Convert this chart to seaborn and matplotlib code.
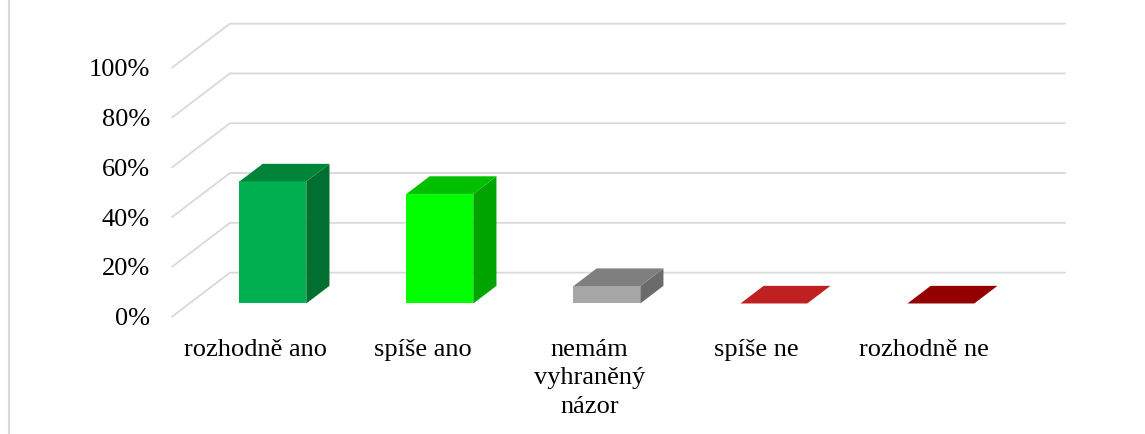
import pandas as pd
import matplotlib
matplotlib.use("Agg")
import matplotlib.pyplot as plt
import seaborn as sns
from matplotlib.patches import Polygon
from matplotlib.lines import Line2D
from matplotlib.transforms import Affine2D

# data
categories = ["rozhodně ano", "spíše ano", "nemám\nvyhraněný\nnázor", "spíše ne", "rozhodně ne"]
values = [49, 44, 7, 0, 0]
yticks = [0, 20, 40, 60, 80, 100]
ytick_labels = ["0%", "20%", "40%", "60%", "80%", "100%"]

# face colours (front / top / side) like the Excel 3D columns
front_colors = ["#00B050", "#00FF00", "#A6A6A6", "#E02A2A", "#A80000"]
top_colors = ["#00843A", "#00BF00", "#7F7F7F", "#BF2121", "#940000"]
side_colors = ["#006F30", "#00A500", "#6B6B6B", "#A01A1A", "#7A0000"]

df = pd.DataFrame({"answer": categories, "share": values})

sns.set_theme(style="white")
plt.rcParams["font.family"] = ["Liberation Serif", "DejaVu Serif"]

fig = plt.figure(figsize=(11.45, 4.34), dpi=100)
ax = fig.add_axes([172 / 1145, 1 - 316.7 / 434, 835 / 1145, 249 / 434])
ax.set_facecolor("none")

# depth of the 3D box in data units, and where the bars sit inside it
DX, DY = 0.347, 17.7
D0, D1 = 0.3, 0.7

# gridlines: diagonal on the side wall + line on the back wall
grid = "#D9D9D9"
for t in yticks:
    ax.plot([-0.5, -0.5 + DX, 4.5 + DX], [t, t + DY, t + DY],
            color=grid, lw=1.3, clip_on=False, zorder=0)

sns.barplot(data=df, x="answer", y="share", hue="answer", palette=front_colors,
            saturation=1, width=0.4, errorbar=None, legend=False, ax=ax, zorder=3)

# push front faces into the box and add top + side faces
bars = sorted(ax.patches, key=lambda p: p.get_x())
for i, p in enumerate(bars):
    p.set_transform(Affine2D().translate(D0 * DX, D0 * DY) + ax.transData)
    p.set_clip_on(False)
    p.set_linewidth(0)
    x0 = p.get_x() + D0 * DX
    y0 = D0 * DY
    w, h = p.get_width(), p.get_height()
    ddx, ddy = (D1 - D0) * DX, (D1 - D0) * DY
    top = [(x0, y0 + h), (x0 + w, y0 + h), (x0 + w + ddx, y0 + h + ddy), (x0 + ddx, y0 + h + ddy)]
    side = [(x0 + w, y0), (x0 + w + ddx, y0 + ddy), (x0 + w + ddx, y0 + h + ddy), (x0 + w, y0 + h)]
    if h > 0:
        ax.add_patch(Polygon(side, closed=True, facecolor=side_colors[i], lw=0, clip_on=False, zorder=3))
    ax.add_patch(Polygon(top, closed=True, facecolor=top_colors[i], lw=0, clip_on=False, zorder=4))

ax.set_xlim(-0.5, 4.5)
ax.set_ylim(0, 100)
ax.set_yticks(yticks)
ax.set_yticklabels(ytick_labels)
ax.set_xlabel("")
ax.set_ylabel("")
ax.tick_params(axis="y", length=0, pad=16, labelsize=19, colors="black")
ax.tick_params(axis="x", length=0, pad=16, labelsize=19, colors="black")
for lab in ax.get_xticklabels():
    lab.set_linespacing(1.37)
sns.despine(ax=ax, left=True, bottom=True)

# thin chart-area border on the left
fig.add_artist(Line2D([8.5 / 1145, 8.5 / 1145], [0, 1], transform=fig.transFigure,
                      color="#D9D9D9", lw=1.5))

fig.savefig("out.png", dpi=100)
